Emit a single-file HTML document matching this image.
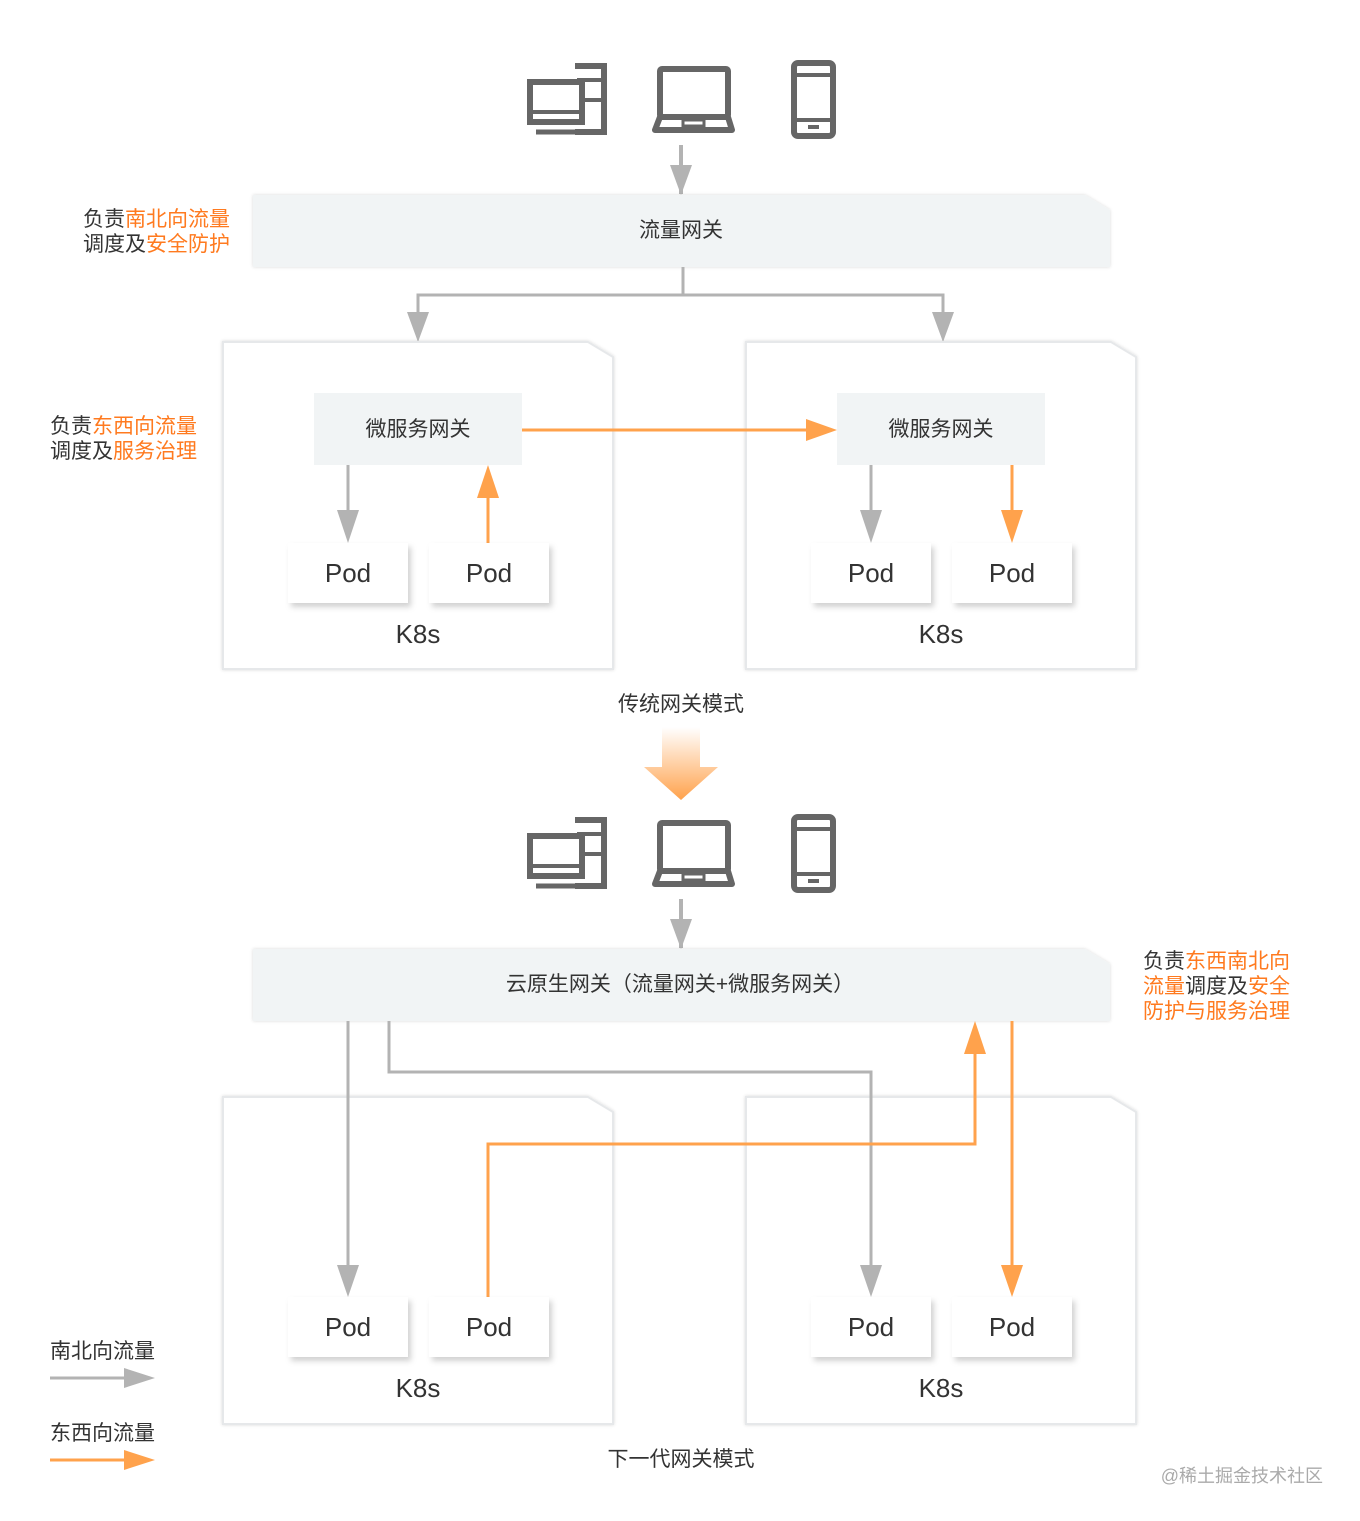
<!DOCTYPE html>
<html><head><meta charset="utf-8"><style>
body{margin:0;background:#fff}
svg{display:block}
text{font-family:"Liberation Sans","Noto Sans CJK SC",sans-serif;fill:#333}
.o{fill:#ff7a1f}
</style></head><body>
<svg width="1360" height="1521" viewBox="0 0 1360 1521" xmlns="http://www.w3.org/2000/svg">
<defs>
<filter id="sh" x="-10%" y="-10%" width="130%" height="140%"><feDropShadow dx="3" dy="4" stdDeviation="3" flood-color="#000" flood-opacity="0.18"/></filter>
<filter id="sh2" x="-5%" y="-5%" width="110%" height="110%"><feDropShadow dx="0" dy="0" stdDeviation="1.5" flood-color="#000" flood-opacity="0.15"/></filter>
<linearGradient id="gr" x1="0" y1="0" x2="0" y2="1"><stop offset="0" stop-color="#fff"/><stop offset="1" stop-color="#ffa24c"/></linearGradient>
<g id="icons" fill="none" stroke="#666" stroke-width="7">
<path d="M575,66 h29 v66 h-29" stroke-width="6"/>
<line x1="577" y1="80" x2="604" y2="80" stroke-width="4"/>
<line x1="577" y1="100" x2="604" y2="100" stroke-width="4"/>
<rect x="530" y="82" width="52" height="40" fill="#fff" stroke-width="6"/>
<line x1="530" y1="112" x2="582" y2="112" stroke-width="4"/>
<path d="M536,132 h50" stroke-width="5"/>
<rect x="660" y="69" width="68" height="48" rx="2" stroke-width="6"/>
<path d="M660,117 L655,130 h77 L728,117" stroke-width="6" stroke-linejoin="round"/>
<rect x="683" y="120" width="21" height="6" stroke-width="3"/>
<rect x="794" y="63" width="39" height="73" rx="4" stroke-width="6"/>
<line x1="794" y1="75" x2="833" y2="75" stroke-width="4"/>
<line x1="794" y1="120" x2="833" y2="120" stroke-width="4"/>
<rect x="808" y="125" width="11" height="4" fill="#666" stroke="none"/>
</g>
<g id="k8s">
<path d="M223,342 H588 L613,357 V669 H223Z" fill="#fff" stroke="#e6e8ea" stroke-width="2" filter="url(#sh2)"/>
</g>
<g id="pod"><rect x="0" y="0" width="120" height="60" fill="#fff" filter="url(#sh)"/><text x="60" y="39" font-size="26" text-anchor="middle">Pod</text></g>
</defs>

<use href="#icons"/>
<line x1="681" y1="145" x2="681" y2="194" stroke="#b3b3b3" stroke-width="4"/>
<path d="M670,165 L692,165 L681,195Z" fill="#b3b3b3"/>
<path d="M253,195 H1085 L1110,210 V267 H253Z" fill="#f1f4f5" filter="url(#sh2)"/>
<text x="681" y="237" font-size="21" text-anchor="middle">流量网关</text>
<path d="M683,267 V295 H418 V320 M683,295 H943 V320" fill="none" stroke="#b3b3b3" stroke-width="3"/>
<path d="M407,312 L429,312 L418,342Z M932,312 L954,312 L943,342Z" fill="#b3b3b3"/>
<use href="#k8s"/><use href="#k8s" transform="translate(523,0)"/>
<rect x="314" y="393" width="208" height="72" fill="#f1f4f5"/>
<rect x="837" y="393" width="208" height="72" fill="#f1f4f5"/>
<text x="418" y="436" font-size="21" text-anchor="middle">微服务网关</text>
<text x="941" y="436" font-size="21" text-anchor="middle">微服务网关</text>
<line x1="522" y1="430" x2="810" y2="430" stroke="#ffa24c" stroke-width="3"/>
<path d="M806,419 L837,430 L806,441Z" fill="#ffa24c"/>
<line x1="348" y1="465" x2="348" y2="515" stroke="#b3b3b3" stroke-width="3"/><path d="M337,510 L359,510 L348,543Z" fill="#b3b3b3"/>
<line x1="488" y1="543" x2="488" y2="495" stroke="#ffa24c" stroke-width="3"/><path d="M477,498 L499,498 L488,465Z" fill="#ffa24c"/>
<line x1="871" y1="465" x2="871" y2="515" stroke="#b3b3b3" stroke-width="3"/><path d="M860,510 L882,510 L871,543Z" fill="#b3b3b3"/>
<line x1="1012" y1="465" x2="1012" y2="515" stroke="#ffa24c" stroke-width="3"/><path d="M1001,510 L1023,510 L1012,543Z" fill="#ffa24c"/>
<use href="#pod" x="288" y="543"/><use href="#pod" x="429" y="543"/>
<use href="#pod" x="811" y="543"/><use href="#pod" x="952" y="543"/>
<text x="418" y="643" font-size="26" text-anchor="middle">K8s</text>
<text x="941" y="643" font-size="26" text-anchor="middle">K8s</text>
<text x="230" y="226" font-size="21" text-anchor="end">负责<tspan class="o">南北向流量</tspan></text>
<text x="230" y="251" font-size="21" text-anchor="end">调度及<tspan class="o">安全防护</tspan></text>
<text x="50" y="433" font-size="21">负责<tspan class="o">东西向流量</tspan></text>
<text x="50" y="458" font-size="21">调度及<tspan class="o">服务治理</tspan></text>
<text x="681" y="711" font-size="21" text-anchor="middle">传统网关模式</text>
<path d="M662,727 H700 V767 H718 L681,800 L644,767 H662Z" fill="url(#gr)"/>

<use href="#icons" transform="translate(0,754)"/>
<line x1="681" y1="899" x2="681" y2="948" stroke="#b3b3b3" stroke-width="4"/>
<path d="M670,919 L692,919 L681,949Z" fill="#b3b3b3"/>
<path d="M253,949 H1085 L1110,964 V1021 H253Z" fill="#f1f4f5" filter="url(#sh2)"/>
<text x="680" y="991" font-size="21" text-anchor="middle">云原生网关（流量网关+微服务网关）</text>
<use href="#k8s" transform="translate(0,755)"/><use href="#k8s" transform="translate(523,755)"/>
<path d="M389,1021 V1072 H871 V1270" fill="none" stroke="#b3b3b3" stroke-width="3"/>
<line x1="348" y1="1021" x2="348" y2="1270" stroke="#b3b3b3" stroke-width="3"/>
<path d="M337,1265 L359,1265 L348,1297Z M860,1265 L882,1265 L871,1297Z" fill="#b3b3b3"/>
<path d="M488,1297 V1144 H975 V1050" fill="none" stroke="#ffa24c" stroke-width="3"/>
<path d="M964,1054 L986,1054 L975,1021Z" fill="#ffa24c"/>
<line x1="1012" y1="1021" x2="1012" y2="1270" stroke="#ffa24c" stroke-width="3"/>
<path d="M1001,1265 L1023,1265 L1012,1297Z" fill="#ffa24c"/>
<use href="#pod" x="288" y="1297"/><use href="#pod" x="429" y="1297"/>
<use href="#pod" x="811" y="1297"/><use href="#pod" x="952" y="1297"/>
<text x="418" y="1397" font-size="26" text-anchor="middle">K8s</text>
<text x="941" y="1397" font-size="26" text-anchor="middle">K8s</text>
<text x="1143" y="968" font-size="21">负责<tspan class="o">东西南北向</tspan></text>
<text x="1143" y="993" font-size="21"><tspan class="o">流量</tspan>调度及<tspan class="o">安全</tspan></text>
<text x="1143" y="1018" font-size="21" class="o">防护与服务治理</text>
<text x="681" y="1466" font-size="21" text-anchor="middle">下一代网关模式</text>
<text x="50" y="1358" font-size="21">南北向流量</text>
<line x1="50" y1="1378" x2="128" y2="1378" stroke="#b3b3b3" stroke-width="3"/><path d="M124,1368 L155,1378 L124,1388Z" fill="#b3b3b3"/>
<text x="50" y="1440" font-size="21">东西向流量</text>
<line x1="50" y1="1460" x2="128" y2="1460" stroke="#ffa24c" stroke-width="3"/><path d="M124,1450 L155,1460 L124,1470Z" fill="#ffa24c"/>
<text x="1323" y="1482" font-size="18" text-anchor="end" style="fill:#aaa">@稀土掘金技术社区</text>
</svg>
</body></html>
